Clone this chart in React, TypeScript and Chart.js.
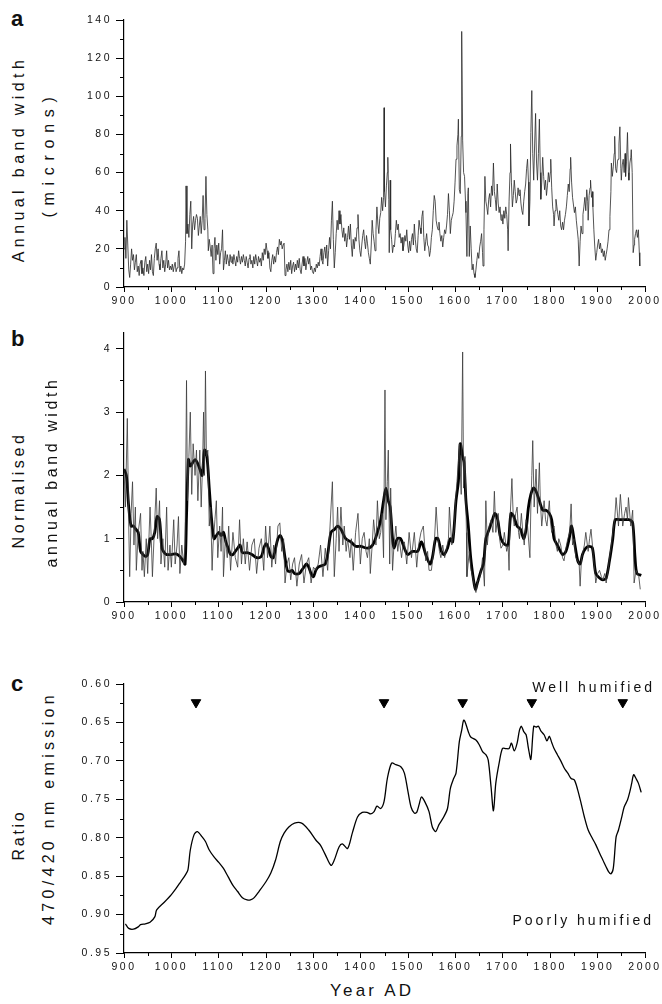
import React, { useEffect, useRef } from "react";
import { Chart, registerables } from "chart.js";

Chart.register(...registerables);

const FONT = "'Liberation Sans', Arial, Helvetica, sans-serif";

// ---------- Panel a: annual band width (microns), [year, width] ----------
const bandWidthA: [number, number][] = [
  [900, 20], [902, 26], [904, 15], [906, 35], [908, 22], [910, 9], [912, 5], [914, 12], [916, 20], [918, 14],
  [920, 17], [922, 9], [924, 13], [926, 17], [928, 8], [930, 11], [932, 6], [934, 12], [936, 14], [938, 7],
  [940, 10], [942, 6], [944, 13], [946, 16], [948, 8], [950, 12], [952, 7], [954, 14], [956, 9], [958, 17],
  [960, 8], [962, 6], [964, 15], [966, 20], [968, 23], [970, 14], [972, 20], [974, 12], [976, 9], [978, 15],
  [980, 19], [982, 10], [984, 14], [986, 8], [988, 12], [990, 19], [992, 10], [994, 14], [996, 9], [998, 11],
  [1000, 9], [1002, 12], [1004, 8], [1006, 11], [1008, 13], [1010, 8], [1012, 10], [1014, 15], [1016, 19], [1018, 8],
  [1020, 11], [1022, 7], [1024, 10], [1026, 9], [1028, 12], [1030, 24], [1031, 53], [1033, 28], [1035, 33], [1037, 26],
  [1039, 38], [1041, 45], [1043, 20], [1045, 33], [1047, 37], [1049, 30], [1051, 35], [1053, 38], [1055, 36], [1057, 27],
  [1059, 32], [1061, 37], [1063, 28], [1065, 35], [1067, 48], [1069, 30], [1071, 36], [1073, 58], [1075, 38], [1077, 30],
  [1078, 19], [1080, 25], [1082, 21], [1084, 16], [1086, 22], [1088, 7], [1090, 20], [1092, 26], [1094, 14], [1096, 22],
  [1098, 17], [1100, 23], [1102, 12], [1104, 18], [1106, 20], [1108, 30], [1110, 9], [1112, 14], [1114, 19], [1116, 12],
  [1118, 17], [1120, 14], [1122, 11], [1124, 17], [1126, 13], [1128, 16], [1130, 12], [1132, 17], [1134, 14], [1136, 11],
  [1138, 16], [1140, 13], [1142, 19], [1144, 15], [1146, 12], [1148, 16], [1150, 13], [1152, 17], [1154, 14], [1156, 11],
  [1158, 16], [1160, 13], [1162, 10], [1164, 15], [1166, 17], [1168, 12], [1170, 14], [1172, 10], [1174, 16], [1176, 12],
  [1178, 17], [1180, 14], [1182, 11], [1184, 16], [1186, 13], [1188, 15], [1190, 11], [1192, 18], [1194, 14], [1196, 20],
  [1198, 17], [1200, 23], [1202, 19], [1204, 15], [1206, 18], [1208, 10], [1210, 8], [1212, 14], [1214, 17], [1216, 12],
  [1218, 16], [1220, 13], [1222, 18], [1224, 21], [1226, 17], [1228, 25], [1230, 22], [1232, 24], [1234, 20], [1236, 22],
  [1238, 23], [1240, 6], [1242, 9], [1244, 12], [1246, 8], [1248, 13], [1250, 9], [1252, 14], [1254, 7], [1256, 11],
  [1258, 13], [1260, 8], [1262, 12], [1264, 9], [1266, 14], [1268, 10], [1270, 15], [1272, 9], [1274, 7], [1276, 12],
  [1278, 16], [1280, 11], [1282, 15], [1284, 9], [1286, 13], [1288, 16], [1290, 12], [1292, 15], [1294, 9], [1296, 11],
  [1298, 8], [1300, 7], [1302, 10], [1304, 8], [1306, 12], [1308, 10], [1310, 13], [1312, 11], [1314, 16], [1316, 20],
  [1318, 14], [1320, 12], [1322, 18], [1324, 21], [1326, 15], [1328, 22], [1330, 11], [1332, 19], [1334, 26], [1336, 20],
  [1338, 35], [1340, 45], [1342, 25], [1344, 10], [1346, 18], [1348, 28], [1350, 35], [1352, 30], [1354, 40], [1356, 33],
  [1358, 38], [1360, 30], [1362, 26], [1364, 31], [1366, 24], [1368, 28], [1370, 21], [1372, 26], [1374, 32], [1376, 25],
  [1378, 33], [1380, 22], [1382, 16], [1384, 25], [1386, 20], [1388, 26], [1390, 24], [1392, 31], [1394, 38], [1396, 25],
  [1398, 19], [1400, 16], [1402, 22], [1404, 27], [1406, 30], [1408, 24], [1410, 20], [1412, 27], [1414, 23], [1416, 18],
  [1418, 15], [1420, 12], [1422, 22], [1424, 35], [1426, 28], [1428, 24], [1430, 19], [1432, 30], [1434, 42], [1436, 33],
  [1438, 28], [1440, 36], [1442, 39], [1444, 47], [1446, 40], [1448, 47], [1449, 94], [1450, 50], [1452, 42], [1454, 53],
  [1456, 60], [1457, 68], [1459, 46], [1460, 18], [1462, 56], [1463, 30], [1465, 25], [1467, 18], [1469, 22], [1471, 21],
  [1473, 28], [1475, 35], [1477, 30], [1479, 33], [1481, 26], [1483, 28], [1485, 23], [1487, 26], [1489, 19], [1491, 22],
  [1493, 27], [1495, 24], [1497, 30], [1499, 22], [1501, 18], [1503, 24], [1505, 19], [1507, 25], [1509, 28], [1511, 22],
  [1513, 33], [1515, 25], [1517, 20], [1519, 18], [1521, 27], [1523, 35], [1525, 31], [1527, 28], [1529, 37], [1531, 40],
  [1533, 26], [1535, 19], [1537, 24], [1539, 28], [1541, 22], [1543, 21], [1545, 16], [1547, 19], [1549, 26], [1551, 30],
  [1553, 40], [1555, 48], [1557, 45], [1559, 35], [1561, 32], [1563, 30], [1565, 34], [1567, 28], [1569, 24], [1571, 27],
  [1573, 21], [1575, 26], [1577, 30], [1579, 28], [1581, 32], [1583, 38], [1585, 49], [1587, 40], [1589, 28], [1591, 35],
  [1593, 37], [1595, 39], [1597, 45], [1599, 55], [1601, 67], [1603, 74], [1605, 80], [1606, 88], [1608, 51], [1610, 49],
  [1612, 79], [1613, 134], [1615, 77], [1617, 60], [1619, 58], [1621, 45], [1622, 39], [1624, 16], [1626, 49], [1627, 52],
  [1629, 16], [1631, 32], [1633, 20], [1635, 9], [1637, 12], [1639, 7], [1641, 5], [1643, 9], [1645, 14], [1647, 18],
  [1649, 15], [1651, 21], [1653, 24], [1655, 28], [1657, 18], [1658, 11], [1660, 30], [1662, 58], [1664, 45], [1666, 42],
  [1668, 38], [1670, 46], [1672, 49], [1674, 42], [1676, 53], [1678, 48], [1680, 65], [1682, 50], [1684, 46], [1686, 40],
  [1688, 54], [1690, 44], [1692, 39], [1694, 42], [1696, 35], [1698, 38], [1700, 33], [1702, 40], [1704, 36], [1706, 42],
  [1708, 38], [1710, 30], [1711, 19], [1713, 45], [1715, 60], [1716, 75], [1718, 55], [1720, 42], [1722, 48], [1724, 56],
  [1726, 50], [1728, 44], [1730, 46], [1732, 52], [1734, 48], [1736, 51], [1738, 44], [1740, 40], [1742, 38], [1744, 45],
  [1746, 50], [1748, 54], [1750, 62], [1752, 67], [1754, 55], [1755, 32], [1757, 45], [1759, 81], [1761, 103], [1763, 70],
  [1765, 56], [1767, 75], [1769, 91], [1771, 65], [1773, 56], [1775, 70], [1777, 88], [1779, 60], [1780, 46], [1782, 55],
  [1784, 68], [1786, 58], [1788, 51], [1790, 56], [1792, 48], [1794, 53], [1796, 60], [1798, 55], [1800, 60], [1801, 67],
  [1803, 52], [1805, 42], [1807, 38], [1808, 32], [1810, 40], [1812, 46], [1814, 42], [1816, 38], [1818, 35], [1820, 40],
  [1822, 32], [1824, 30], [1826, 34], [1828, 30], [1830, 35], [1832, 38], [1834, 42], [1836, 48], [1838, 54], [1840, 50],
  [1842, 62], [1843, 68], [1845, 55], [1847, 47], [1849, 43], [1851, 39], [1853, 42], [1855, 35], [1857, 30], [1859, 25],
  [1861, 11], [1863, 24], [1865, 32], [1867, 28], [1869, 38], [1871, 42], [1873, 47], [1875, 40], [1877, 51], [1879, 45],
  [1880, 35], [1882, 48], [1884, 52], [1885, 56], [1887, 47], [1889, 50], [1890, 42], [1892, 30], [1894, 21], [1896, 14],
  [1898, 18], [1900, 22], [1902, 25], [1904, 20], [1906, 23], [1908, 18], [1910, 20], [1912, 16], [1914, 19], [1916, 14],
  [1918, 17], [1920, 20], [1922, 24], [1924, 30], [1926, 37], [1928, 50], [1929, 65], [1931, 58], [1933, 63], [1935, 70],
  [1936, 79], [1938, 62], [1940, 60], [1942, 66], [1943, 67], [1945, 75], [1947, 84], [1949, 62], [1950, 56], [1952, 64],
  [1954, 67], [1956, 60], [1958, 70], [1959, 58], [1961, 66], [1963, 81], [1965, 60], [1966, 56], [1968, 65], [1970, 68],
  [1971, 72], [1973, 60], [1975, 18], [1977, 22], [1978, 25], [1980, 28], [1982, 30], [1984, 26], [1986, 30], [1988, 18],
  [1989, 11],
];

// ---------- Panel b: normalised annual band width ----------
const yearsB = [
  900, 903, 907, 910, 912, 915, 918, 921, 924, 926,
  930, 935, 938, 940, 943, 947, 950, 955, 958, 960,
  965, 968, 971, 975, 978, 982, 986, 990, 993, 997,
  1000, 1005, 1008, 1012, 1015, 1018, 1022, 1026, 1029, 1032,
  1034, 1037, 1040, 1043, 1046, 1050, 1053, 1056, 1060, 1063,
  1066, 1068, 1070, 1072, 1074, 1077, 1080, 1083, 1086, 1088,
  1092, 1095, 1098, 1102, 1105, 1108, 1110, 1114, 1118, 1121,
  1125, 1130, 1135, 1140, 1144, 1148, 1152, 1156, 1160, 1165,
  1170, 1175, 1180, 1185, 1190, 1195, 1199, 1203, 1208, 1212,
  1216, 1220, 1225, 1229, 1233, 1237, 1240, 1244, 1248, 1252,
  1256, 1260, 1265, 1270, 1275, 1280, 1285, 1290, 1295, 1300,
  1305, 1310, 1315, 1320, 1325, 1330, 1335, 1340, 1344, 1348,
  1351, 1354, 1358, 1362, 1365, 1369, 1372, 1377, 1380, 1384,
  1389, 1394, 1399, 1403, 1407, 1411, 1414, 1418, 1420, 1424,
  1427, 1432, 1435, 1439, 1442, 1445, 1448, 1451, 1453, 1456,
  1458, 1461, 1463, 1467, 1470, 1474, 1478, 1481, 1486, 1489,
  1492, 1497, 1502, 1507, 1510, 1513, 1518, 1522, 1527, 1532,
  1537, 1541, 1544, 1549, 1555, 1559, 1563, 1566, 1569, 1573,
  1577, 1581, 1585, 1587, 1592, 1597, 1600, 1603, 1606, 1608,
  1612, 1615, 1617, 1620, 1623, 1624, 1629, 1633, 1636, 1640,
  1643, 1647, 1650, 1654, 1657, 1661, 1664, 1667, 1671, 1675,
  1679, 1682, 1685, 1690, 1693, 1696, 1700, 1703, 1708, 1711,
  1713, 1715, 1719, 1722, 1724, 1727, 1730, 1733, 1735, 1739,
  1742, 1745, 1749, 1752, 1757, 1759, 1761, 1763, 1766, 1770,
  1773, 1777, 1779, 1782, 1787, 1790, 1793, 1798, 1800, 1803,
  1808, 1812, 1815, 1818, 1822, 1826, 1829, 1833, 1837, 1841,
  1844, 1847, 1850, 1854, 1858, 1861, 1863, 1866, 1868, 1872,
  1875, 1880, 1883, 1886, 1889, 1891, 1894, 1896, 1900, 1904,
  1908, 1911, 1915, 1918, 1922, 1925, 1929, 1932, 1936, 1939,
  1944, 1948, 1953, 1957, 1960, 1963, 1965, 1970, 1974, 1976,
  1977, 1981, 1984, 1987, 1990,
];
const normalisedB = [
  2.1, 1.5, 2.9, 1.2, 0.4, 1.4, 1.9, 0.9, 1.5, 0.5,
  1.1, 1.4, 0.5, 0.8, 0.4, 1.0, 0.45, 1.5, 0.9, 0.4,
  1.3, 1.8, 1.0, 1.6, 0.6, 1.0, 0.55, 1.5, 0.5, 0.9,
  0.55, 1.3, 0.6, 0.9, 1.35, 0.45, 0.9, 0.6, 0.9, 3.5,
  1.6, 2.3, 3.0, 1.7, 2.5, 2.0, 2.4, 1.6, 2.4, 1.5,
  2.2, 3.0, 2.0, 3.65, 2.3, 2.4, 1.2, 1.5, 0.5, 0.9,
  1.3, 1.6, 0.7, 1.2, 0.8, 1.5, 0.4, 1.0, 0.7, 1.2,
  0.5, 1.1, 0.7, 0.55, 1.3, 0.6, 1.0, 0.6, 0.95, 0.5,
  0.9, 1.0, 0.45, 0.85, 1.0, 0.5, 1.2, 0.7, 1.2, 0.55,
  0.9, 0.6, 1.2, 1.25, 0.8, 1.0, 0.3, 0.6, 0.7, 0.35,
  0.6, 0.7, 0.25, 0.6, 0.75, 0.3, 0.6, 0.7, 0.3, 0.55,
  0.5, 0.6, 0.9, 0.4, 0.85, 0.5, 1.2, 1.9, 0.4, 1.0,
  1.5, 0.8, 1.5, 0.9, 1.2, 0.8, 1.0, 0.7, 1.0, 0.5,
  1.1, 1.4, 0.6, 1.0, 1.1, 0.8, 0.7, 1.0, 0.45, 0.9,
  1.3, 0.9, 1.6, 1.0, 1.1, 1.4, 0.7, 3.35, 1.3, 1.9,
  2.4, 0.6, 1.8, 0.5, 0.9, 1.2, 0.8, 1.0, 0.7, 0.9,
  0.95, 0.6, 1.1, 0.7, 0.9, 1.1, 0.55, 0.9, 1.1, 1.2,
  0.65, 0.8, 0.5, 0.5, 0.9, 1.5, 1.0, 0.8, 0.7, 0.9,
  0.7, 0.85, 1.0, 1.5, 0.9, 1.15, 1.6, 1.9, 2.2, 2.5,
  1.7, 3.95, 1.8, 2.3, 1.1, 0.4, 0.8, 0.5, 0.4, 0.25,
  0.15, 0.35, 0.35, 0.5, 0.7, 0.25, 1.6, 0.9, 1.2, 1.3,
  1.1, 1.75, 1.1, 1.4, 1.0, 0.85, 0.9, 1.1, 0.8, 0.9,
  0.5, 1.3, 1.95, 1.3, 1.2, 1.4, 1.5, 1.1, 1.0, 1.4,
  1.1, 0.9, 1.3, 1.2, 0.7, 1.5, 2.0, 2.55, 1.5, 2.1,
  1.4, 2.2, 1.6, 1.2, 1.6, 1.3, 1.2, 1.6, 1.3, 1.1,
  1.2, 0.9, 0.8, 1.0, 0.9, 0.7, 0.65, 0.85, 1.0, 1.1,
  1.55, 0.9, 1.0, 0.7, 0.65, 0.6, 0.25, 0.7, 0.75, 0.9,
  1.1, 0.8, 1.0, 1.15, 0.9, 0.7, 0.5, 0.3, 0.45, 0.5,
  0.4, 0.35, 0.45, 0.3, 0.5, 0.7, 0.9, 1.1, 1.3, 1.65,
  1.2, 1.7, 1.2, 1.4, 1.5, 1.3, 1.65, 1.2, 1.45, 0.8,
  0.3, 0.5, 0.45, 0.4, 0.2,
];

// running mean (thick line)
const yearsBSmooth = [
  900, 905, 910, 915, 920, 925, 930, 935, 940, 945,
  950, 955, 960, 965, 970, 975, 980, 985, 990, 1000,
  1010, 1018, 1025, 1029, 1032, 1036, 1040, 1045, 1050, 1055,
  1060, 1065, 1070, 1075, 1080, 1085, 1090, 1095, 1100, 1105,
  1110, 1115, 1120, 1125, 1130, 1135, 1140, 1145, 1150, 1160,
  1170, 1180, 1190, 1195, 1200, 1205, 1210, 1215, 1220, 1225,
  1230, 1235, 1240, 1245, 1250, 1255, 1260, 1270, 1275, 1280,
  1285, 1290, 1295, 1300, 1305, 1310, 1320, 1325, 1330, 1337,
  1345, 1351, 1358, 1368, 1379, 1389, 1400, 1414, 1425, 1435,
  1442, 1448, 1453, 1458, 1462, 1467, 1470, 1477, 1484, 1492,
  1499, 1509, 1520, 1528, 1537, 1546, 1551, 1558, 1563, 1570,
  1576, 1583, 1589, 1594, 1601, 1606, 1610, 1615, 1618, 1622,
  1627, 1632, 1638, 1642, 1646, 1654, 1659, 1664, 1671, 1678,
  1683, 1689, 1694, 1699, 1706, 1711, 1717, 1723, 1730, 1737,
  1744, 1749, 1754, 1759, 1765, 1770, 1777, 1784, 1791, 1798,
  1803, 1808, 1815, 1826, 1833, 1840, 1845, 1851, 1858, 1863,
  1868, 1875, 1882, 1889, 1896, 1904, 1911, 1918, 1925, 1932,
  1937, 1946, 1956, 1967, 1974, 1979, 1983, 1992,
];
const runningMeanB = [
  2.1, 2.0, 1.5, 1.2, 1.2, 1.15, 1.1, 0.8, 0.75, 0.72,
  0.75, 1.0, 1.0, 1.1, 1.35, 1.3, 0.85, 0.78, 0.75, 0.75,
  0.76, 0.72, 0.65, 0.6, 1.35, 2.25, 2.15, 2.2, 2.25, 2.2,
  2.1, 2.0, 2.4, 2.3, 1.8, 1.3, 1.0, 1.05, 1.1, 1.05,
  1.1, 0.95, 0.85, 0.75, 0.75, 0.8, 0.85, 0.9, 0.78, 0.78,
  0.75, 0.7, 0.72, 0.85, 0.92, 0.85, 0.72, 0.7, 0.85, 1.0,
  1.05, 0.95, 0.7, 0.5, 0.48, 0.5, 0.45, 0.45, 0.5, 0.55,
  0.6, 0.55, 0.45, 0.4, 0.5, 0.55, 0.58, 0.6, 0.75, 1.1,
  1.15, 1.2, 1.15, 1.0, 0.95, 0.88, 0.88, 0.85, 0.9, 1.1,
  1.3, 1.6, 1.8, 1.6, 1.5, 1.0, 0.85, 1.0, 1.0, 0.85,
  0.75, 0.8, 0.8, 0.95, 0.75, 0.6, 0.7, 1.0, 1.0, 0.8,
  0.75, 0.85, 1.0, 0.95, 1.6, 1.9, 2.5, 2.3, 2.2, 1.6,
  1.2, 0.7, 0.35, 0.2, 0.3, 0.5, 0.6, 1.0, 1.15, 1.3,
  1.4, 1.3, 1.05, 0.95, 0.9, 0.9, 1.4, 1.35, 1.2, 1.15,
  1.0, 1.15, 1.5, 1.7, 1.8, 1.75, 1.6, 1.45, 1.45, 1.4,
  1.3, 1.0, 0.9, 0.75, 0.8, 1.0, 1.2, 0.95, 0.65, 0.6,
  0.75, 0.85, 0.88, 0.85, 0.45, 0.38, 0.35, 0.38, 0.65, 1.0,
  1.3, 1.3, 1.3, 1.3, 1.25, 0.7, 0.45, 0.42,
];

// ---------- Panel c: ratio 470/420 nm emission ----------
const yearsC = [
  903, 910, 920, 930, 935, 945, 955, 965, 969, 985,
  1000, 1010, 1020, 1030, 1035, 1040, 1048, 1055, 1065, 1072,
  1080, 1090, 1100, 1110, 1120, 1130, 1140, 1150, 1160, 1167,
  1175, 1185, 1200, 1210, 1220, 1230, 1238, 1248, 1260, 1275,
  1290, 1305, 1315, 1325, 1337, 1344, 1354, 1361, 1372, 1382,
  1393, 1403, 1413, 1421, 1428, 1434, 1442, 1449, 1456, 1465,
  1474, 1485, 1492, 1499, 1506, 1513, 1518, 1523, 1528, 1535,
  1544, 1551, 1558, 1565, 1575, 1583, 1589, 1596, 1601, 1608,
  1613, 1617, 1620, 1627, 1632, 1643, 1650, 1657, 1664, 1669,
  1675, 1680, 1685, 1692, 1699, 1706, 1713, 1718, 1724, 1730,
  1735, 1739, 1744, 1749, 1754, 1759, 1765, 1770, 1775, 1780,
  1787, 1793, 1798, 1803, 1808, 1815, 1823, 1830, 1837, 1844,
  1851, 1858, 1865, 1872, 1880, 1889, 1896, 1904, 1911, 1918,
  1923, 1928, 1933, 1939, 1944, 1951, 1956, 1963, 1968, 1972,
  1976, 1981, 1986, 1992,
];
const ratioC = [
  0.912, 0.918, 0.919, 0.916, 0.913, 0.912, 0.910, 0.903, 0.894, 0.884,
  0.874, 0.866, 0.857, 0.848, 0.842, 0.816, 0.796, 0.792, 0.799, 0.805,
  0.816, 0.825, 0.832, 0.840, 0.851, 0.862, 0.870, 0.878, 0.881, 0.881,
  0.878, 0.870, 0.857, 0.846, 0.829, 0.805, 0.794, 0.786, 0.781, 0.781,
  0.790, 0.803, 0.810, 0.822, 0.836, 0.829, 0.812, 0.808, 0.814, 0.794,
  0.773, 0.767, 0.767, 0.769, 0.766, 0.759, 0.762, 0.753, 0.723, 0.703,
  0.705, 0.708, 0.716, 0.738, 0.760, 0.768, 0.767, 0.757, 0.747, 0.753,
  0.766, 0.786, 0.792, 0.783, 0.773, 0.762, 0.736, 0.723, 0.716, 0.675,
  0.660, 0.647, 0.649, 0.662, 0.669, 0.673, 0.679, 0.688, 0.692, 0.699,
  0.734, 0.765, 0.729, 0.703, 0.684, 0.684, 0.684, 0.677, 0.687, 0.677,
  0.660, 0.655, 0.662, 0.666, 0.684, 0.698, 0.655, 0.656, 0.655, 0.661,
  0.666, 0.674, 0.668, 0.676, 0.684, 0.692, 0.701, 0.710, 0.716, 0.723,
  0.725, 0.738, 0.755, 0.773, 0.790, 0.801, 0.809, 0.820, 0.829, 0.838,
  0.844, 0.847, 0.840, 0.799, 0.790, 0.773, 0.760, 0.751, 0.740, 0.729,
  0.718, 0.723, 0.729, 0.741,
];

// triangle markers (years) and the ratio level they sit at
const markerYears = [1052, 1449, 1615, 1761, 1953];
const markerLevel = 0.624;

// minor tick positions (data units)
const xMinorTicks = [950, 1050, 1150, 1250, 1350, 1450, 1550, 1650, 1750, 1850, 1950];
const yMinorTicksA = [10, 30, 50, 70, 90, 110, 130];
const yMinorTicksB = [0.5, 1.5, 2.5, 3.5];
const yMinorTicksC = [0.625, 0.675, 0.725, 0.775, 0.825, 0.875, 0.925];

const toPoints = (xs: number[], ys: number[]) => xs.map((x, i) => ({ x, y: ys[i] }));
const pairsToPoints = (pairs: [number, number][]) => pairs.map(([x, y]) => ({ x, y }));

const TICK_SPACING = "2.5px";
const letterSpacingPlugin = {
  id: "tickLetterSpacing",
  beforeUpdate(chart: any) {
    chart.ctx.letterSpacing = TICK_SPACING;
  },
  beforeLayout(chart: any) {
    chart.ctx.letterSpacing = TICK_SPACING;
  },
  beforeDraw(chart: any) {
    chart.ctx.letterSpacing = TICK_SPACING;
  },
};

const minorTicksPlugin = {
  id: "minorTicks",
  afterDraw(chart: any, _args: any, opts: any) {
    const ctx = chart.ctx;
    const xs = chart.scales.x;
    const ys = chart.scales.y;
    ctx.save();
    ctx.strokeStyle = "#000";
    ctx.lineWidth = 1;
    ctx.beginPath();
    for (const v of opts.x || []) {
      const px = Math.round(xs.getPixelForValue(v)) + 0.5;
      ctx.moveTo(px, xs.top);
      ctx.lineTo(px, xs.top + 3);
    }
    for (const v of opts.y || []) {
      const py = Math.round(ys.getPixelForValue(v)) + 0.5;
      ctx.moveTo(ys.right - 4, py);
      ctx.lineTo(ys.right, py);
    }
    ctx.stroke();
    ctx.restore();
  },
};

const tickFont = { family: FONT, size: 10.5 };

function xAxis(h: number) {
  return {
    type: "linear",
    min: 900,
    max: 2000,
    afterFit: (s: any) => {
      s.height = h;
    },
    ticks: {
      color: "#111",
      font: tickFont,
      stepSize: 100,
      autoSkip: false,
      maxRotation: 0,
      padding: 3,
      callback: (v: any) => String(v),
    },
    grid: {
      drawOnChartArea: false,
      drawTicks: true,
      tickLength: 5,
      tickColor: "#000",
      tickWidth: 1,
    },
    border: { display: true, color: "#000", width: 1.2 },
  };
}

function yAxis(min: number, max: number, step: number, fmt: (v: number) => string, reverse = false) {
  return {
    type: "linear",
    min,
    max,
    reverse,
    afterFit: (s: any) => {
      s.width = 64;
    },
    ticks: {
      color: "#111",
      font: tickFont,
      stepSize: step,
      includeBounds: false,
      autoSkip: false,
      padding: 4,
      callback: (v: any) => fmt(Number(v)),
    },
    grid: {
      drawOnChartArea: false,
      drawTicks: true,
      tickLength: 8,
      tickColor: "#000",
      tickWidth: 1,
    },
    border: { display: true, color: "#000", width: 1.2 },
  };
}

function baseOptions(padTop: number, xH: number, y: any, minorY: number[]) {
  return {
    responsive: false,
    maintainAspectRatio: false,
    animation: false,
    events: [],
    layout: { padding: { left: 0, right: 20, top: padTop, bottom: 0 } },
    scales: { x: xAxis(xH), y },
    plugins: {
      legend: { display: false },
      tooltip: { enabled: false },
      minorTicks: { x: xMinorTicks, y: minorY },
    },
  } as any;
}

function VText(props: { cx: number; cy: number; size: number; spacing: number; children: string }) {
  return (
    <div
      style={{
        position: "absolute",
        left: props.cx,
        top: props.cy,
        transform: "translate(-50%, -50%) rotate(-90deg)",
        whiteSpace: "nowrap",
        fontFamily: FONT,
        fontSize: props.size,
        lineHeight: `${props.size}px`,
        letterSpacing: props.spacing,
        color: "#111",
      }}
    >
      {props.children}
    </div>
  );
}

function HText(props: { left?: number; right?: number; top: number; size: number; spacing: number; bold?: boolean; children: string }) {
  return (
    <div
      style={{
        position: "absolute",
        left: props.left,
        right: props.right,
        top: props.top,
        whiteSpace: "nowrap",
        fontFamily: FONT,
        fontSize: props.size,
        fontWeight: props.bold ? 700 : 400,
        lineHeight: `${props.size}px`,
        letterSpacing: props.spacing,
        color: "#111",
      }}
    >
      {props.children}
    </div>
  );
}

export default function App() {
  const refA = useRef<HTMLCanvasElement>(null);
  const refB = useRef<HTMLCanvasElement>(null);
  const refC = useRef<HTMLCanvasElement>(null);

  useEffect(() => {
    const plugins = [letterSpacingPlugin, minorTicksPlugin];

    const chartA = new Chart(refA.current as HTMLCanvasElement, {
      type: "line",
      data: {
        datasets: [
          {
            data: pairsToPoints(bandWidthA),
            borderColor: "#2a2a2a",
            borderWidth: 0.8,
            pointRadius: 0,
            tension: 0,
          },
        ],
      },
      options: baseOptions(20, 33, yAxis(0, 140, 20, (v) => String(v)), yMinorTicksA),
      plugins,
    } as any);

    const chartB = new Chart(refB.current as HTMLCanvasElement, {
      type: "line",
      data: {
        datasets: [
          {
            data: toPoints(yearsB, normalisedB),
            borderColor: "#3a3a3a",
            borderWidth: 0.8,
            pointRadius: 0,
            tension: 0,
          },
          {
            data: toPoints(yearsBSmooth, runningMeanB),
            borderColor: "#000",
            borderWidth: 2.8,
            pointRadius: 0,
            tension: 0.3,
          },
        ],
      },
      options: baseOptions(23, 38, yAxis(0, 4.25, 1, (v) => String(v)), yMinorTicksB),
      plugins,
    } as any);

    const chartC = new Chart(refC.current as HTMLCanvasElement, {
      type: "line",
      data: {
        datasets: [
          {
            data: toPoints(yearsC, ratioC),
            borderColor: "#000",
            borderWidth: 1.3,
            pointRadius: 0,
            tension: 0.3,
          },
          {
            data: markerYears.map((x) => ({ x, y: markerLevel })),
            showLine: false,
            pointStyle: "triangle",
            rotation: 180,
            pointRadius: 5.5,
            backgroundColor: "#000",
            borderColor: "#000",
            borderWidth: 1,
          },
        ],
      },
      options: baseOptions(24, 27, yAxis(0.6, 0.95, 0.05, (v) => v.toFixed(2), true), yMinorTicksC),
      plugins,
    } as any);

    return () => {
      chartA.destroy();
      chartB.destroy();
      chartC.destroy();
    };
  }, []);

  return (
    <div style={{ position: "absolute", left: 0, top: 0, width: 662, height: 1004, background: "#fff" }}>
      <canvas ref={refA} width={605} height={320} style={{ position: "absolute", left: 60, top: 0 }} />
      <canvas ref={refB} width={605} height={330} style={{ position: "absolute", left: 60, top: 310 }} />
      <canvas ref={refC} width={605} height={320} style={{ position: "absolute", left: 60, top: 660 }} />

      <HText left={11} top={8.4} size={22} spacing={0} bold>a</HText>
      <HText left={11} top={328.4} size={22} spacing={0} bold>b</HText>
      <HText left={11} top={673.4} size={22} spacing={0} bold>c</HText>

      <VText cx={19} cy={159} size={16} spacing={4.4}>Annual band width</VText>
      <VText cx={49} cy={154} size={16} spacing={6.7}>(microns)</VText>

      <VText cx={19} cy={490} size={16} spacing={3.6}>Normalised</VText>
      <VText cx={52} cy={472} size={16} spacing={3.6}>annual band width</VText>

      <VText cx={19} cy={835} size={16} spacing={2.7}>Ratio</VText>
      <VText cx={49} cy={808} size={16} spacing={4.3}>470/420 nm emission</VText>

      <HText right={7} top={680} size={14} spacing={3}>Well humified</HText>
      <HText right={8} top={913} size={14} spacing={3}>Poorly humified</HText>

      <HText left={330} top={982} size={17} spacing={3.2}>Year AD</HText>
    </div>
  );
}
